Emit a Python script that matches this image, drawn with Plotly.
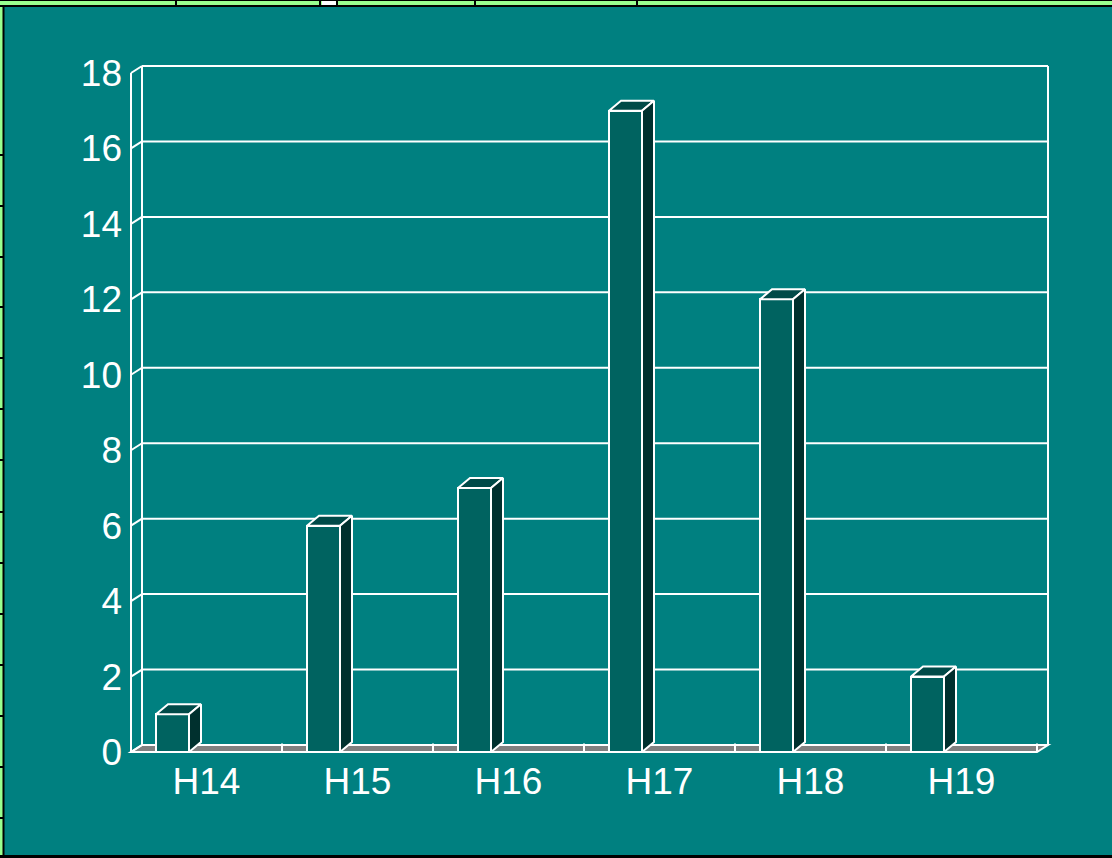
import plotly.graph_objects as go

# ---- data ----
categories = ["H14", "H15", "H16", "H17", "H18", "H19"]
values = [1, 6, 7, 17, 12, 2]
y_ticks = [0, 2, 4, 6, 8, 10, 12, 14, 16, 18]

# ---- styling ----
BG = "#008080"
FRONT = "#006360"
TOP = "#004a48"
SIDE = "#00302e"
FLOOR = "#808080"
WHITE = "#ffffff"
FONT = "Liberation Sans, Arial, sans-serif"

W, H = 1112, 858
# pixel geometry of the front plane
PX_X0, SX = 131.0, 151.0          # pixel of x=0, px per category
PX_Y0, SY = 752.0, 679.0 / 18.0   # pixel of y=0, px per unit
PL, PR, PT, PB = 127, 1058, 58, 756  # plot area in pixels

x_range = [(PL - PX_X0) / SX, (PR - PX_X0) / SX]
y_range = [(PX_Y0 - PB) / SY, (PX_Y0 - PT) / SY]

# depth offsets converted to data units
WDX, WDY = 11 / SX, 7 / SY     # walls / floor depth
BDX, BDY = 12 / SX, 10 / SY    # bar depth
BAR_L, BAR_W = 25 / SX, 33 / SX

n = len(categories)
fig = go.Figure()

shapes = []
# floor
shapes.append(dict(type="path", xref="x", yref="y", layer="below",
                   path=f"M 0 0 L {n} 0 L {n + WDX} {WDY} L {WDX} {WDY} Z",
                   fillcolor=FLOOR, line=dict(color=WHITE, width=2)))
# back wall gridlines and left-wall diagonals
for v in y_ticks:
    if v > 0:
        shapes.append(dict(type="line", xref="x", yref="y", layer="below",
                           x0=WDX, x1=n + WDX, y0=v + WDY, y1=v + WDY,
                           line=dict(color=WHITE, width=2)))
    shapes.append(dict(type="line", xref="x", yref="y", layer="below",
                       x0=0, x1=WDX, y0=v, y1=v + WDY,
                       line=dict(color=WHITE, width=2)))
ymax = y_ticks[-1]
# wall verticals
for x0, y0, y1 in [(0, 0, ymax), (WDX, WDY, ymax + WDY), (n + WDX, WDY, ymax + WDY)]:
    shapes.append(dict(type="line", xref="x", yref="y", layer="below",
                       x0=x0, x1=x0, y0=y0, y1=y1, line=dict(color=WHITE, width=2)))
# category tick marks on floor
for i in range(1, n + 1):
    shapes.append(dict(type="line", xref="x", yref="y", layer="below",
                       x0=i, x1=i, y0=0, y1=WDY * 1.2,
                       line=dict(color=WHITE, width=2)))

# bar front faces
fig.add_trace(go.Bar(
    x=[i + BAR_L + BAR_W / 2 for i in range(n)], y=values, width=BAR_W, base=0,
    marker=dict(color=FRONT, line=dict(color=WHITE, width=2)),
    hoverinfo="skip", showlegend=False))

# bar tops and sides
for i, v in enumerate(values):
    L = i + BAR_L
    R = L + BAR_W
    fig.add_trace(go.Scatter(
        x=[L, R, R + BDX, L + BDX, L], y=[v, v, v + BDY, v + BDY, v],
        mode="lines", fill="toself", fillcolor=TOP,
        line=dict(color=WHITE, width=2), hoverinfo="skip", showlegend=False))
    fig.add_trace(go.Scatter(
        x=[R, R, R + BDX, R + BDX, R], y=[0, v, v + BDY, BDY, 0],
        mode="lines", fill="toself", fillcolor=SIDE,
        line=dict(color=WHITE, width=2), hoverinfo="skip", showlegend=False))

# ---- surrounding spreadsheet frame (paper pixels) ----
def px(xp):
    return (xp - PL) / (PR - PL)

def py(yp):
    return (PB - yp) / (PB - PT)

GREEN = "#99ff8f"
shapes += [
    dict(type="rect", xref="paper", yref="paper", x0=px(0), x1=px(W), y0=py(0), y1=py(6),
         fillcolor=GREEN, line=dict(width=0), layer="above"),
    dict(type="rect", xref="paper", yref="paper", x0=px(0), x1=px(3), y0=py(0), y1=py(H),
         fillcolor=GREEN, line=dict(width=0), layer="above"),
    dict(type="rect", xref="paper", yref="paper", x0=px(322), x1=px(336), y0=py(0), y1=py(5),
         fillcolor=WHITE, line=dict(width=0), layer="above"),
    dict(type="line", xref="paper", yref="paper", x0=px(0), x1=px(W), y0=py(6), y1=py(6),
         line=dict(color="black", width=2), layer="above"),
    dict(type="line", xref="paper", yref="paper", x0=px(0), x1=px(W), y0=py(0.5), y1=py(0.5),
         line=dict(color="black", width=1), layer="above"),
    dict(type="line", xref="paper", yref="paper", x0=px(3.5), x1=px(3.5), y0=py(6), y1=py(H),
         line=dict(color="black", width=2), layer="above"),
    dict(type="line", xref="paper", yref="paper", x0=px(0), x1=px(W), y0=py(856.5), y1=py(856.5),
         line=dict(color="black", width=3), layer="above"),
]
for xs in [176, 320, 337, 475, 637]:
    shapes.append(dict(type="line", xref="paper", yref="paper", x0=px(xs), x1=px(xs),
                       y0=py(0), y1=py(6), line=dict(color="black", width=2), layer="above"))
for ys in [155, 206, 257, 307, 358, 409, 460, 512, 563, 614, 665, 716, 767, 818]:
    shapes.append(dict(type="line", xref="paper", yref="paper", x0=px(0), x1=px(3),
                       y0=py(ys), y1=py(ys), line=dict(color="black", width=2), layer="above"))

fig.update_layout(
    width=W, height=H, autosize=False,
    margin=dict(l=PL, r=W - PR, t=PT, b=H - PB, pad=0),
    paper_bgcolor=BG, plot_bgcolor=BG,
    shapes=shapes,
    bargap=0,
    font=dict(family=FONT, color=WHITE, size=37),
    xaxis=dict(range=x_range, tickvals=[i + 0.5 for i in range(n)], ticktext=categories,
               showgrid=False, zeroline=False, showline=False, ticks="",
               tickfont=dict(size=37, color=WHITE, family=FONT), fixedrange=True),
    yaxis=dict(range=y_range, tickvals=y_ticks, ticktext=[str(t) for t in y_ticks],
               showgrid=False, zeroline=False, showline=False, ticks="",
               ticklabelstandoff=4,
               tickfont=dict(size=37, color=WHITE, family=FONT), fixedrange=True),
)

fig.write_html("out.html", config={"displayModeBar": False},
               post_script="document.body.style.margin='0';document.body.style.overflow='hidden';")
